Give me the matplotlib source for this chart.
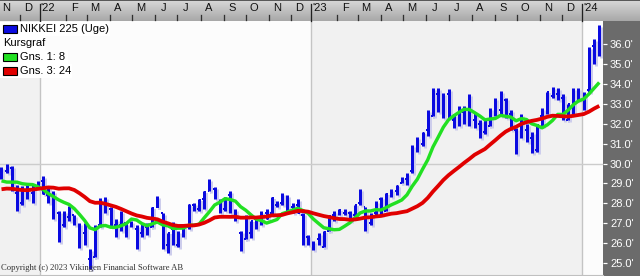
import matplotlib
matplotlib.use('Agg')
import matplotlib.pyplot as plt
import matplotlib.transforms as mtransforms
import matplotlib.dates as mdates
from matplotlib.patches import Rectangle
from matplotlib.lines import Line2D
from matplotlib.colors import LinearSegmentedColormap
import numpy as np
import pandas as pd

# ---------------- data (weekly, values in thousands) ----------------
first_week = "2021-11-08"
# closes of the weeks before the first shown bar (needed for the averages)
hist_close = [28.32, 29.15, 28.94, 28.95, 28.96, 29.07, 28.78, 27.94, 28.00, 27.55,
              27.28, 27.82, 27.98, 27.01, 27.64, 29.13, 30.38, 30.50, 30.25, 28.77,
              28.05, 29.07, 28.80, 28.89, 29.61]

open_ = [29.70, 29.60, 29.80, 28.50, 28.00, 28.60, 28.50, 28.80,
         29.10, 28.40, 28.20, 27.50, 26.90, 27.30, 27.40, 26.90, 26.50, 25.20, 25.30, 26.90, 28.20,
         27.70, 26.90, 26.90, 27.00, 27.00, 26.70, 26.50, 26.80, 26.80, 27.80, 27.50, 25.90, 26.70,
         25.90, 26.80, 26.80, 27.90, 27.70, 28.20, 28.60, 28.70, 28.00, 27.70, 28.40, 27.60, 26.50,
         26.20, 26.50, 27.20, 27.00, 27.50, 27.50, 27.90, 28.00, 28.30, 27.80, 27.90, 27.40, 26.30,
         25.80, 26.20, 25.80, 26.60, 27.40, 27.60, 27.50, 27.50, 27.40, 28.00, 27.80, 27.00, 27.50,
         28.20, 27.60, 28.50, 28.60, 29.00, 29.20, 29.60, 30.90, 31.00, 31.70, 32.40, 33.50, 32.90,
         33.50, 32.20, 32.50, 32.60, 33.00, 32.20, 32.00, 31.60, 31.90, 32.90, 32.70, 33.20, 32.50,
         31.70, 31.50, 31.70, 31.30, 30.70, 32.40, 32.60, 33.40, 33.50, 33.30, 32.20, 32.80, 33.20,
         33.19, 33.70, 35.90, 36.30]
high = [29.81, 29.96, 29.90, 28.90, 28.86, 28.90, 28.90, 29.12,
        29.39, 28.85, 28.60, 27.60, 27.60, 27.88, 27.40, 27.00, 27.00, 25.70, 26.90, 28.25, 28.34,
        27.80, 27.20, 27.60, 27.00, 27.10, 26.90, 27.00, 27.00, 27.80, 28.39, 27.50, 26.50, 27.06,
        26.60, 26.90, 27.95, 28.00, 28.20, 28.60, 29.22, 28.80, 28.20, 28.30, 28.60, 27.70, 26.60,
        27.40, 27.10, 27.30, 27.60, 27.70, 28.30, 28.10, 28.50, 28.40, 28.00, 28.20, 27.50, 26.40,
        26.10, 26.50, 26.60, 27.40, 27.60, 27.70, 27.70, 27.60, 27.93, 28.73, 27.80, 27.50, 28.10,
        28.30, 28.50, 28.70, 28.90, 29.30, 29.50, 30.92, 31.35, 31.56, 32.70, 33.77, 33.77, 33.53,
        33.76, 32.50, 32.90, 32.90, 33.49, 32.60, 32.20, 32.30, 32.80, 33.30, 33.63, 33.30, 32.70,
        31.80, 32.50, 32.00, 31.60, 32.00, 32.80, 33.60, 33.85, 33.81, 33.50, 33.00, 33.80, 33.80,
        33.60, 35.84, 36.24, 36.98]
low = [29.20, 29.50, 28.60, 27.59, 27.90, 28.20, 28.00, 28.70,
       28.48, 28.00, 27.20, 26.04, 26.80, 27.10, 26.90, 25.78, 25.90, 24.68, 25.30, 26.80, 27.50,
       26.80, 26.30, 26.60, 26.30, 26.80, 25.70, 26.30, 26.40, 26.80, 27.80, 25.70, 25.50, 25.90,
       25.80, 26.30, 26.70, 27.60, 27.60, 27.70, 28.60, 28.20, 27.50, 27.60, 27.50, 27.10, 25.62,
       26.20, 26.24, 26.70, 26.90, 27.20, 27.40, 27.80, 27.90, 27.60, 27.50, 27.50, 25.90, 25.90,
       25.66, 25.90, 25.80, 26.60, 27.10, 27.40, 27.40, 27.10, 27.30, 27.90, 26.63, 26.90, 27.40,
       27.40, 27.60, 28.30, 28.40, 29.00, 28.90, 29.50, 30.60, 30.90, 31.40, 32.40, 32.58, 32.30,
       32.30, 31.79, 31.90, 32.00, 31.90, 31.80, 31.30, 31.50, 31.90, 32.40, 32.40, 32.30, 31.70,
       30.49, 31.30, 31.10, 30.55, 30.60, 31.90, 32.50, 33.30, 33.20, 32.20, 32.20, 32.50, 33.20,
       32.69, 33.60, 35.00, 35.40]
close = [29.61, 29.75, 28.75, 28.03, 28.44, 28.55, 28.78, 28.79,
         28.48, 28.12, 27.52, 26.72, 27.44, 27.70, 27.12, 26.48, 25.99, 25.16, 26.83, 28.15, 27.67,
         26.99, 27.09, 27.11, 26.85, 27.00, 26.43, 26.74, 26.78, 27.76, 27.82, 25.96, 26.49, 25.94,
         26.52, 26.79, 27.91, 27.80, 28.18, 28.55, 28.93, 28.64, 27.65, 28.21, 27.57, 27.15, 25.94,
         27.12, 27.09, 26.89, 27.11, 27.20, 28.26, 27.90, 28.28, 27.78, 27.90, 27.53, 26.24, 26.09,
         25.97, 26.12, 26.55, 27.38, 27.51, 27.67, 27.51, 27.45, 27.93, 28.14, 27.33, 27.39, 28.04,
         27.52, 28.49, 28.56, 28.86, 29.16, 29.39, 30.81, 30.92, 31.52, 32.27, 33.71, 32.78, 33.19,
         32.39, 32.39, 32.30, 32.76, 32.19, 32.47, 31.45, 31.62, 32.71, 32.61, 33.53, 32.40, 31.86,
         31.00, 32.32, 31.26, 30.99, 31.95, 32.57, 33.59, 33.63, 33.43, 32.31, 32.97, 33.17, 33.46,
         33.38, 35.58, 35.96, 35.75]
ma_short, ma_long = 8, 24
y_ticks = [25, 26, 27, 28, 29, 30, 31, 32, 33, 34, 35, 36]
legend_rows = ["NIKKEI 225 (Uge)", "Kursgraf", "Gns. 1: 8", "Gns. 3: 24"]
month_letters = ["J", "F", "M", "A", "M", "J", "J", "A", "S", "O", "N", "D"]
copyright_text = "Copyright (c) 2023 Vikingen Financial Software AB"

# ---------------- derived ----------------
n = len(close)
weeks = pd.date_range(first_week, periods=n, freq="7D") + pd.Timedelta(days=2)
x = mdates.date2num(weeks)
all_close = pd.Series(hist_close + close)
sma_s = all_close.rolling(ma_short).mean().values[len(hist_close):]
sma_l = all_close.rolling(ma_long).mean().values[len(hist_close):]

W, H, DPI = 640, 276, 100
fig = plt.figure(figsize=(W / DPI, H / DPI), dpi=DPI, facecolor="#6b6b6b")
FONT = ["Liberation Sans", "DejaVu Sans"]

# top band with gradient
ax_top = fig.add_axes([0, 1 - 21 / H, 1, 21 / H])
grad = np.linspace(0, 1, 64).reshape(-1, 1)
cm = LinearSegmentedColormap.from_list("g", ["#d8d8d8", "#a8a8a8"])
ax_top.imshow(grad, aspect="auto", cmap=cm, extent=[0, 1, 0, 1], origin="upper")
ax_top.set_xlim(0, 1); ax_top.set_ylim(0, 1)
ax_top.axis("off")
ax_top.axhline(1, color="#404040", lw=1.2)

# main axes
ax = fig.add_axes([0, 1 / H, 603 / W, 254 / H])
x0 = mdates.date2num(pd.Timestamp("2021-11-08"))
x1 = mdates.date2num(pd.Timestamp("2024-01-29"))
ax.set_xlim(x0, x1)
ax.set_ylim(24.40, 37.16)

# year shading
years = [2021, 2022, 2023, 2024]
for i, yr in enumerate(years):
    a = mdates.date2num(pd.Timestamp(f"{yr}-01-01"))
    b = mdates.date2num(pd.Timestamp(f"{yr + 1}-01-01"))
    ax.axvspan(a, b, color="#f1f1f1" if i % 2 == 0 else "#fcfcfc", lw=0, zorder=0)
    if yr > 2021:
        ax.axvline(a, color="#c4c4c4", lw=1, zorder=1)
ax.axhline(30, color="#cccccc", lw=1, zorder=1)

# bars with shadow
px = 72 / DPI
tick_days = 2.4
shadow = ax.transData + mtransforms.ScaledTranslation(2 / DPI, -2 / DPI, fig.dpi_scale_trans)
for tr, col, z in [(shadow, "#cdcdec", 2), (ax.transData, "#0a0ae0", 3)]:
    ax.vlines(x, low, high, color=col, lw=3 * px, transform=tr, zorder=z)
    ax.hlines(open_, x - tick_days, x, color=col, lw=2 * px, transform=tr, zorder=z)
    ax.hlines(close, x, x + tick_days, color=col, lw=2 * px, transform=tr, zorder=z)

ax.plot(x, sma_s, color="#22e022", lw=3.4 * px, zorder=5, solid_capstyle="butt")
ax.plot(x, sma_l, color="#e00000", lw=3.8 * px, zorder=6, solid_capstyle="butt")

# axes styling
for s in ["top", "left", "right"]:
    ax.spines[s].set_visible(False)
ax.spines["bottom"].set_color("#c0c0c0")
ax.set_xticks([])
ax.yaxis.tick_right()
ax.set_yticks(y_ticks)
ax.set_yticklabels([f"{v:.1f}'" for v in y_ticks])
ax.tick_params(axis="y", colors="white", length=4 * px, width=1.2 * px, pad=3 * px,
               labelsize=8)
for lab in ax.get_yticklabels():
    lab.set_fontfamily(FONT)
    lab.set_color("white")

# month labels on top band
blend = mtransforms.blended_transform_factory(ax.transData, fig.transFigure)
months = pd.date_range("2021-11-01", "2024-01-01", freq="MS")
for m in months:
    mid = mdates.date2num(m + pd.Timedelta(days=15))
    if m.month == 1:
        lab = "'" + str(m.year)[2:]
        xs = mdates.date2num(m)
        ax.add_line(Line2D([xs, xs], [1 - 4 / H, 1 - 21 / H], transform=blend,
                           color="#202020", lw=1.3 * px, clip_on=False, zorder=10))
        ax.text(xs + 1.0, 1 - 8 / H, lab, transform=blend, ha="left", va="center",
                fontsize=8, family=FONT, color="#101010", clip_on=False, zorder=10)
    else:
        lab = month_letters[m.month - 1]
        ax.text(mid, 1 - 8 / H, lab, transform=blend, ha="center", va="center",
                fontsize=8, family=FONT, color="#101010", clip_on=False, zorder=10)
        xt = mdates.date2num(m + pd.Timedelta(days=4))
        ax.add_line(Line2D([xt, xt], [1 - 15 / H, 1 - 20 / H], transform=blend,
                           color="#303030", lw=1.3 * px, clip_on=False, zorder=10))

# legend
row_y = [29, 43, 57, 71]
row_w = [110, 45, 68, 72]
swatch = ["#0a0ae0", None, "#22e022", "#e00000"]
for ry, rw, sw, txt in zip(row_y, row_w, swatch, legend_rows):
    fig.add_artist(Rectangle((0, 1 - (ry + 7) / H), rw / W, 14 / H, transform=fig.transFigure,
                             facecolor="white", edgecolor="none", zorder=20))
    if sw is not None:
        fig.add_artist(Rectangle((3 / W, 1 - (ry + 4) / H), 14 / W, 8 / H,
                                 transform=fig.transFigure, facecolor=sw,
                                 edgecolor="black", lw=0.8, zorder=21))
        tx = 20
    else:
        tx = 3
    fig.text(tx / W, 1 - ry / H, txt, ha="left", va="center", fontsize=8, family=FONT,
             color="black", zorder=22)

fig.text(1 / W, 1 - 268 / H, copyright_text, ha="left", va="center", fontsize=6.2,
         family=["Liberation Serif", "DejaVu Serif"], color="#303030", zorder=22)

fig.savefig("out.png", dpi=DPI)
